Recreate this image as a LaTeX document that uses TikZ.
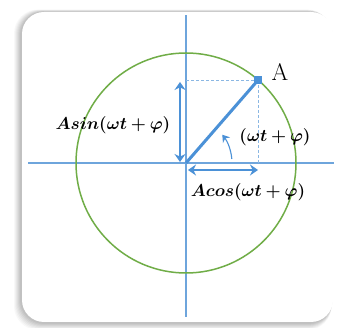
\documentclass[tikz,border=0pt]{standalone}
\usepackage{amsmath,amssymb}
\usepackage{bm}
\usepackage{xcolor}
\usepackage{tikz}
\usetikzlibrary{arrows.meta,positioning,calc,shadows}
\definecolor{axisblue}{RGB}{110,165,220}
\definecolor{vecblue}{RGB}{75,145,215}
\definecolor{ringgreen}{RGB}{112,173,71}
\colorlet{shadegray}{black!55}
\tikzset{
    card/.style={
        rectangle, rounded corners=22pt, fill=white,
        minimum width=311pt, minimum height=310pt, inner sep=0pt
    },
    axisline/.style={draw=axisblue, line width=1.1pt},
    guide/.style={draw=axisblue!80, dashed, dash pattern=on 3pt off 2pt, line width=0.8pt},
    span/.style={{Stealth[length=8pt,width=11pt]}-{Stealth[length=8pt,width=11pt]},
        draw=vecblue, line width=1.1pt},
    mathlbl/.style={font=\fontsize{17.5}{20}\selectfont, inner sep=1pt}
}

\begin{document}
\begin{tikzpicture}[x=1pt,y=1pt]
    \useasboundingbox (0,0) rectangle (345,328);
    % soft shadow of the card, heavier to the lower left
    \foreach \d/\o in {8/0.05,7/0.06,6/0.07,5/0.08,4/0.09,3/0.10,2/0.11}{
        \fill[shadegray, opacity=\o, rounded corners=24pt]
            (22-\d,6-\d) rectangle (333-0.2*\d,316+0.3*\d);
    }
    \node[card] (frame) at (177.5,161) {};
    % axes and circle
    \coordinate (O) at (186,165);
    \draw[axisline] (28,165) -- (334,165);
    \draw[axisline] (186,11) -- (186,313);
    \draw[ringgreen, line width=1.5pt] (O) circle (110);
    \coordinate (A) at ($(O)+(49:110)$);
    \coordinate (Ay) at (O |- A);
    \coordinate (Ax) at (A |- O);
    % projections
    \draw[guide] (Ay) -- (A);
    \draw[guide] (A) -- (Ax);
    \draw[vecblue, line width=3pt] (O) -- (A);
    \fill[vecblue] ($(A)+(-4,-4)$) rectangle ($(A)+(4,4)$);
    % amplitude spans
    \coordinate (s1) at (180,246);
    \coordinate (s2) at (180,166);
    \draw[span] (s1) -- (s2);
    \coordinate (c1) at (188,158);
    \coordinate (c2) at (258,158);
    \draw[span] (c1) -- (c2);
    % phase angle
    \draw[-{Stealth[length=7pt,width=9pt]}, draw=vecblue, line width=1.1pt]
        ($(O)+(5:46)$) arc[start angle=5, end angle=38, radius=46];
    % labels
    \node[font=\fontsize{24}{26}\selectfont, anchor=west] (lA) at (268,256) {A};
    \node[mathlbl] (lsin) at (113,203) {$\bm{Asin(\omega t+\varphi)}$};
    \node[mathlbl] (lang) at (275,191) {$\bm{(\omega t+\varphi)}$};
    \node[mathlbl] (lcos) at (248,136) {$\bm{Acos(\omega t+\varphi)}$};
\end{tikzpicture}
\end{document}
